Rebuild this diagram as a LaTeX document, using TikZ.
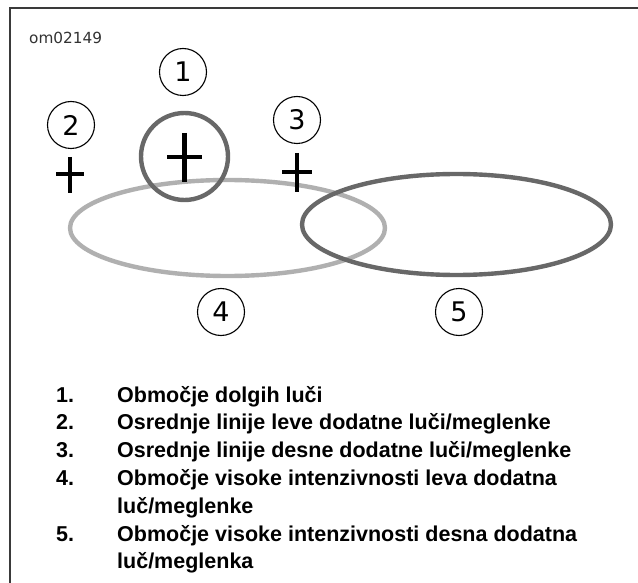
\documentclass[tikz,border=0pt]{standalone}
\usepackage{fontspec}
\setmainfont{Liberation Sans}
\newfontfamily\dejavu{DejaVu Sans}
\definecolor{zonelight}{HTML}{B0B0B0}
\definecolor{zonedark}{HTML}{686868}
\definecolor{framecol}{HTML}{3A3A3A}
\begin{document}
\begin{tikzpicture}[x=1pt,y=-1pt,
  callout/.style={circle, draw=black, line width=1.1pt, minimum size=47pt, inner sep=0pt,
    font=\dejavu\fontsize{27}{27}\selectfont},
  crossbar/.style={line width=4.6pt, black},
  zone/.style={line width=4.4pt},
  numtext/.style={anchor=base west, inner sep=0pt, font=\bfseries\fontsize{21.5}{26}\selectfont},
  itemtext/.style={anchor=base west, inner sep=0pt, font=\bfseries\fontsize{21.5}{26}\selectfont}]
\useasboundingbox (0,0) rectangle (638,583);
\fill[white] (0,0) rectangle (638,583);
% frame
\draw[line width=2pt, framecol] (9.5,583) -- (9.5,8) -- (638,8);
% drawing id
\node[anchor=base west, inner sep=0pt, text=black!80, font=\dejavu\fontsize{15.3}{15}\selectfont] (id) at (29,44) {om02149};
% zones
\draw[zone, zonelight] (227.5,228) ellipse [x radius=157.5, y radius=48];
\draw[zone, zonedark] (456.5,224.5) ellipse [x radius=154.5, y radius=50.5];
\draw[zone, zonedark] (184.5,156.5) circle [radius=43.5];
% crosses
\draw[crossbar] (167,157) -- (202,157) (184.5,133) -- (184.5,182);
\draw[crossbar] (56,174) -- (84,174) (70,157) -- (70,193);
\draw[crossbar] (282,172) -- (312,172) (297,153) -- (297,192);
% callouts
\node[callout] (c1) at (183,72) {1};
\node[callout] (c2) at (71,125) {2};
\node[callout] (c3) at (297,120) {3};
\node[callout] (c4) at (221,312) {4};
\node[callout] (c5) at (459,312) {5};
% legend
\node[numtext] (n1) at (56,402) {1.};
\node[itemtext] (t1) at (117,402) {Območje dolgih luči};
\node[numtext] (n2) at (56,429.8) {2.};
\node[itemtext] (t2) at (117,429.8) {Osrednje linije leve dodatne luči/meglenke};
\node[numtext] (n3) at (56,457.6) {3.};
\node[itemtext] (t3) at (117,457.6) {Osrednje linije desne dodatne luči/meglenke};
\node[numtext] (n4) at (56,485.4) {4.};
\node[itemtext] (t4) at (117,485.4) {Območje visoke intenzivnosti leva dodatna};
\node[itemtext] (t4b) at (117,513.2) {luč/meglenke};
\node[numtext] (n5) at (56,541) {5.};
\node[itemtext] (t5) at (117,541) {Območje visoke intenzivnosti desna dodatna};
\node[itemtext] (t5b) at (117,568.8) {luč/meglenka};
\end{tikzpicture}
\end{document}
